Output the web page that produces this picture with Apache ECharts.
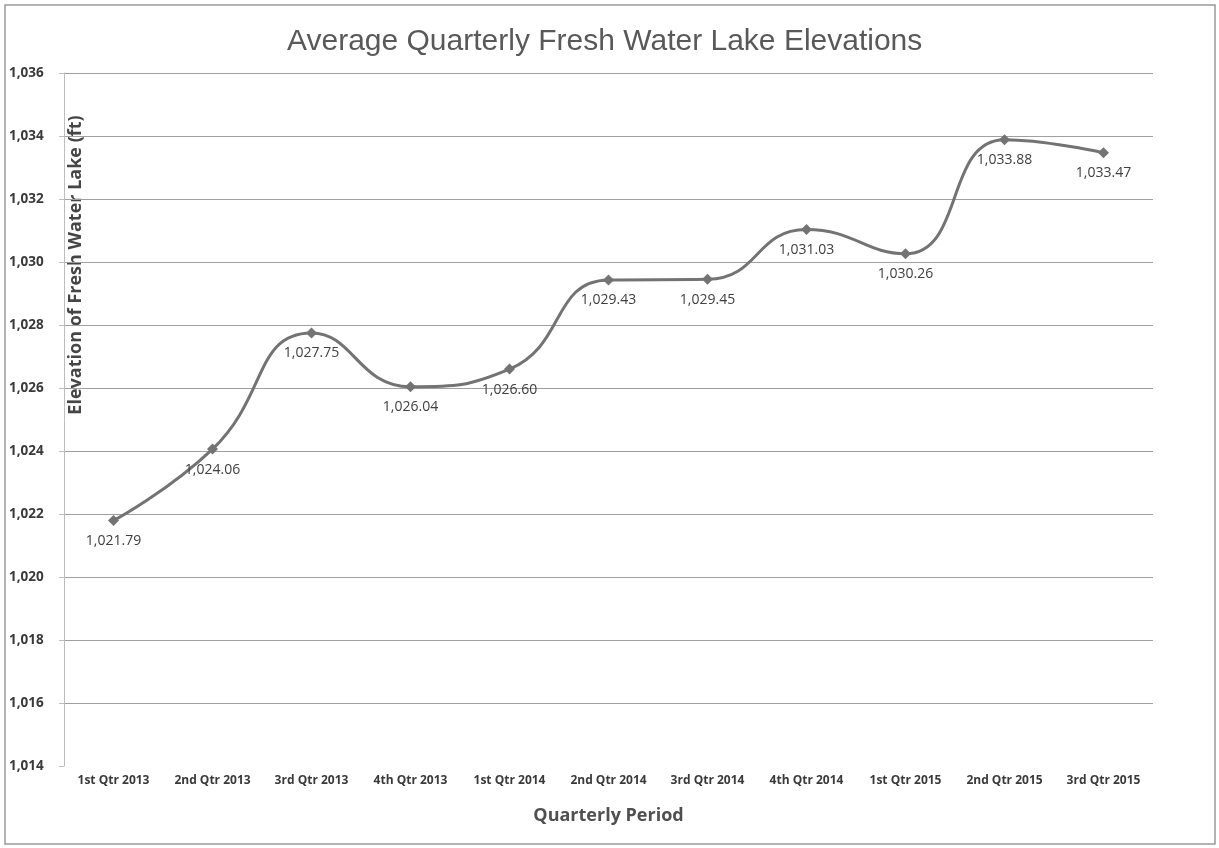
<!DOCTYPE html>
<html>
<head>
<meta charset="utf-8">
<script src="https://cdn.jsdelivr.net/npm/echarts@6/dist/echarts.min.js"></script>
<style>
  html, body { margin: 0; padding: 0; background: #ffffff; }
  #chart { width: 1219px; height: 848px; }
</style>
</head>
<body>
<div id="chart"></div>
<script>
// Quarterly periods along the horizontal axis
const quarters = [
  '1st Qtr 2013', '2nd Qtr 2013', '3rd Qtr 2013', '4th Qtr 2013',
  '1st Qtr 2014', '2nd Qtr 2014', '3rd Qtr 2014', '4th Qtr 2014',
  '1st Qtr 2015', '2nd Qtr 2015', '3rd Qtr 2015'
];

// Average lake elevation per quarter (ft)
const elevations = [
  1021.79, 1024.06, 1027.75, 1026.04,
  1026.60, 1029.43, 1029.45, 1031.03,
  1030.26, 1033.88, 1033.47
];

// Elevation axis range and step
const yMin = 1014;
const yMax = 1036;
const yStep = 2;

const fmtThousands = (v, digits) =>
  v.toLocaleString('en-US', { minimumFractionDigits: digits, maximumFractionDigits: digits });

const chart = echarts.init(document.getElementById('chart'), null, { renderer: 'canvas' });

chart.setOption({
  backgroundColor: '#ffffff',
  animation: false,
  title: {
    text: 'Average Quarterly Fresh Water Lake Elevations',
    left: 282,
    top: 22,
    textStyle: {
      fontFamily: 'Liberation Sans, Arial, sans-serif',
      fontSize: 30,
      fontWeight: 'normal',
      color: '#595959'
    }
  },
  grid: { left: 64, right: 66, top: 73, bottom: 82 },
  xAxis: {
    type: 'category',
    data: quarters,
    boundaryGap: true,
    axisLine: { show: false },
    axisTick: { show: false },
    axisLabel: {
      interval: 0,
      margin: 9,
      fontFamily: 'Open Sans, sans-serif',
      fontSize: 12,
      fontWeight: 'bold',
      color: '#3a3a3a'
    },
    name: 'Quarterly Period',
    nameLocation: 'middle',
    nameGap: 41,
    nameTextStyle: {
      fontFamily: 'Open Sans, sans-serif',
      fontSize: 18,
      fontWeight: 'bold',
      color: '#505050'
    }
  },
  yAxis: {
    type: 'value',
    min: yMin,
    max: yMax,
    interval: yStep,
    axisLine: { show: true, lineStyle: { color: '#bdbdbd', width: 1 } },
    axisTick: { show: true, length: 5, lineStyle: { color: '#bdbdbd' } },
    axisLabel: {
      margin: 55,
      align: 'left',
      fontFamily: 'Open Sans, sans-serif',
      fontSize: 13.5,
      fontWeight: 'bold',
      color: '#3a3a3a',
      formatter: v => fmtThousands(v, 0)
    },
    splitLine: {
      show: true,
      showMinLine: false,
      lineStyle: { color: '#a0a0a0', width: 1.2 }
    }
  },
  series: [{
    type: 'line',
    data: elevations,
    smooth: 0.5,
    symbol: 'diamond',
    symbolSize: 11,
    lineStyle: { color: '#737373', width: 3 },
    itemStyle: { color: '#737373' },
    label: {
      show: true,
      position: 'bottom',
      distance: 8,
      fontFamily: 'Open Sans, sans-serif',
      fontSize: 14,
      color: '#404040',
      formatter: p => fmtThousands(p.value, 2)
    }
  }],
  graphic: [
    {
      type: 'rect',
      shape: { x: 5, y: 5, width: 1210, height: 839 },
      style: { fill: 'none', stroke: '#9a9a9a', lineWidth: 1.5 },
      silent: true
    },
    {
      type: 'text',
      x: 76,
      y: 265,
      rotation: Math.PI / 2,
      style: {
        text: 'Elevation of Fresh Water Lake (ft)',
        font: 'bold 18px "Open Sans", sans-serif',
        fill: '#454545',
        align: 'center',
        verticalAlign: 'middle'
      },
      silent: true
    }
  ]
});
</script>
</body>
</html>
